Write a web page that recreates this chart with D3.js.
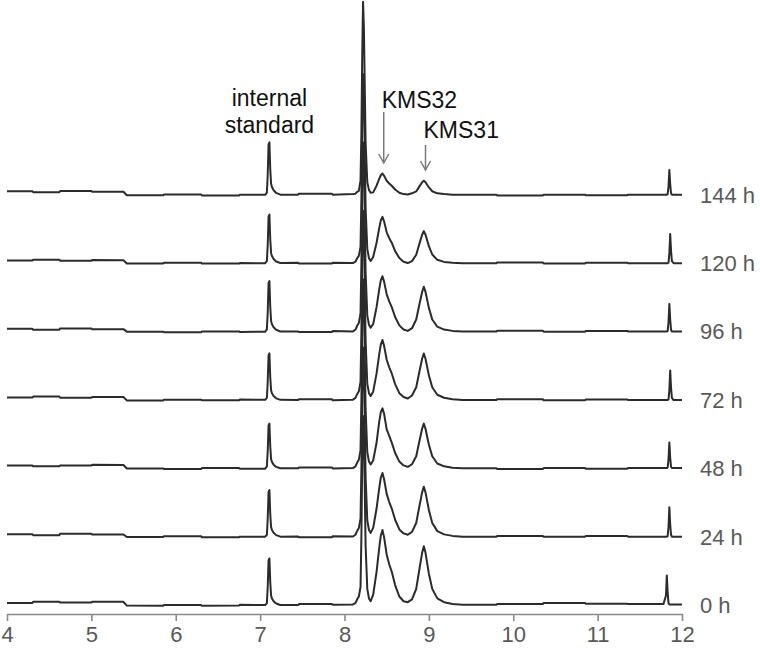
<!DOCTYPE html>
<html><head><meta charset="utf-8">
<script src="https://cdn.jsdelivr.net/npm/d3@7"></script>
<style>
html,body{margin:0;padding:0;background:#fff;}
svg{display:block;}
text{font-family:"Liberation Sans",Arial,sans-serif;}
</style></head>
<body>
<svg id="chart" width="760" height="656"></svg>
<script>
// Retention time grid (min)
const times = [
4.00,4.30,4.31,4.62,4.63,5.00,5.01,5.38,
5.42,5.85,5.86,6.30,6.31,6.75,6.76,
7.06,7.08,7.09,7.10,7.11,7.12,7.13,7.14,7.16,7.19,7.24,
7.45,7.46,7.85,7.86,8.10,
8.13,8.15,8.17,8.19,8.20,8.21,8.22,8.23,8.24,8.25,8.27,8.29,8.31,
8.34,8.38,8.41,8.43,8.45,8.47,8.50,8.53,8.56,8.60,8.65,
8.70,8.75,8.80,
8.85,8.89,8.92,8.94,8.96,9.00,9.04,9.10,9.18,9.28,
9.40,9.80,9.81,10.35,10.36,10.85,10.86,11.35,11.36,
11.78,11.81,11.82,11.83,11.84,11.85,11.86,11.87,11.88,11.90,12.00
];
// Sampling times (labels, bottom to top)
const sampleLabels = ["0 h","24 h","48 h","72 h","96 h","120 h","144 h"];
// Detector signal (relative units) per sample
const signal0h = [
1.6,1.6,2.2,2.2,1.8,1.8,2.3,2.2,
0.2,0.1,0.5,0.5,0.1,0.2,0.6,
0.5,1.5,10,24,25,12.5,5.5,4,2.5,1.3,0.5,
0.5,1.0,1.0,0.6,0.8,
1.5,3.5,5,10,36,76,100,90,62,32,9,4,2.5,
6,18,30,37,40,36,27,22,18,11,5,
2.5,2,3.5,
9,20,28,31.5,28,17,9,4,2,1,
0.6,0.6,1.0,1.0,1.6,1.6,1.2,1.2,1.0,
1.0,5.5,16,7,1.5,0.8,0.8,0.8,0.8,0.8,0.8
];
const signal24h = [
1.8,1.8,1.3,1.3,2.0,2.0,1.6,1.6,
0.3,0.3,0.7,0.7,0.2,0.2,0.5,
0.5,1.5,10,24,25,12.5,5.5,4,2.5,1.3,0.5,
0.6,0.2,0.2,0.7,0.6,
1.5,3.5,5,10,36,76,100,90,62,32,9,4,2.5,
5.1,15.3,25.5,31.5,34,30.6,23,18.7,15.3,9.4,4.3,
2.2,1.5,3,
7.7,17,23.8,26.8,23.8,14.5,7.7,3.4,1.7,0.9,
0.5,0.5,0.9,0.9,0.4,0.4,0.8,0.8,0.5,
0.5,0.5,0.5,0.8,5.5,16,7,1.5,0.5,0.5,0.5
];
const signal48h = [
2.0,2.0,1.5,1.5,1.9,1.9,2.3,2.2,
0.4,0.4,0.1,0.1,0.6,0.6,0.3,
0.3,1.5,9.5,23,24,12,5.3,3.8,2.4,1.2,0.5,
0.5,0.9,0.9,0.4,0.6,
1.5,3.5,5,10,36,76,100,90,62,32,9,4,2.5,
4.6,14,24.5,30,32,29,21,17.5,14,8.5,4,
2,1.2,2.6,
6.8,15.2,21.3,24,21.3,12.9,6.8,3,1.5,0.8,
0.5,0.5,0.1,0.1,0.6,0.6,0.3,0.3,0.6,
0.6,0.6,0.6,0.9,5,14,6,1.3,0.6,0.6,0.6
];
const signal72h = [
1.7,1.7,2.2,2.2,1.6,1.6,2.0,2.0,
0.2,0.2,0.6,0.6,0.3,0.3,0.7,
0.5,1.5,10,24,25,12.5,5.5,4,2.5,1.3,0.5,
0.4,0.8,0.8,0.3,0.6,
1.5,3.5,5,10,36,76,100,90,62,32,9,4,2.5,
4.8,14.4,24,29.6,32,28.8,21.6,17.6,14.4,8.8,4,
2,1.2,2.8,
7.1,15.8,22.1,24.9,22.1,13.4,7.1,3.2,1.6,0.8,
0.4,0.4,0.8,0.8,0.3,0.3,0.7,0.7,0.4,
0.4,0.4,0.4,0.4,0.7,5.5,16,7,1.5,0.4,0.4
];
const signal96h = [
1.9,1.9,1.4,1.4,2.1,2.1,1.7,1.7,
0.4,0.4,0.1,0.1,0.5,0.5,0.2,
0.4,1.6,10.5,26,27,13.5,6,4.3,2.7,1.4,0.5,
0.5,0.2,0.2,0.7,0.5,
1.5,3.5,5,10,36,76,100,90,62,32,9,4,2.5,
4.4,13.3,22.2,27.4,29.6,26.6,20,16.3,13.3,8.1,3.7,
1.5,0.8,2.2,
6.8,15.2,21.3,24,21.3,12.9,6.8,3,1.5,0.8,
0.5,0.5,0.9,0.9,0.4,0.4,0.8,0.8,0.5,
0.5,0.5,0.5,0.8,5.2,15,6.8,1.4,0.5,0.5,0.5
];
const signal120h = [
1.8,1.8,2.3,2.3,1.7,1.7,2.1,2.0,
0.3,0.3,0.7,0.7,0.2,0.2,0.5,
0.4,1.5,10,25,26,13,5.7,4.2,2.6,1.3,0.5,
0.6,0.3,0.3,0.7,0.5,
1.2,3,4.3,9,34,76,100,89,60,30,8,3,1.6,
3.7,11.2,18.6,22.9,24.8,22.3,16.7,13.6,11.2,6.8,3.1,
1.2,0.5,1.5,
4.9,11,15.4,17.3,15.4,9.4,5,2.2,1.1,0.6,
0.4,0.4,0.8,0.8,0.3,0.3,0.7,0.7,0.4,
0.4,0.4,0.4,0.4,0.7,5.5,15.8,7,1.5,0.4,0.4
];
const signal144h = [
2.3,2.3,1.8,1.8,2.4,2.4,2.0,2.0,
0.2,0.2,0.6,0.6,0.1,0.1,0.5,
0.4,1.6,11,27,28,14,6.2,4.5,2.8,1.4,0.5,
0.5,1.0,1.0,0.5,0.8,
1,2,2.5,8,32,74,102,88,58,28,7,3,1.5,
1.7,5.2,8.7,10.7,11.6,10.4,7.8,6.4,5.2,3.2,1.5,
0.8,0.6,1.2,
2.2,5,7,7.9,7,4.3,2.3,1.2,0.8,0.5,
0.4,0.4,0.1,0.1,0.5,0.5,0.2,0.2,0.5,
0.5,0.5,0.5,0.8,4.7,13.5,6,1.2,0.5,0.5,0.5
];
const signals = [signal0h,signal24h,signal48h,signal72h,signal96h,signal120h,signal144h];
// Axis ticks
const xTicks = [4,5,6,7,8,9,10,11,12];
// Annotations
const peakNames = ["KMS32","KMS31"];
const peakTimes = [8.465, 8.96];
const standardLabel = ["internal","standard"];
const standardTime = 7.11;

// ---------- layout ----------
const svg = d3.select("#chart");
const x = d3.scaleLinear().domain([4,12]).range([7,682]);
const y = d3.scaleLinear().domain([0,100]).range([606,416]);
const stackStep = 36;   // vertical offset between traces (signal units)
const FONT = 22;
const AFONT = 23;

// Axis
const axisG = svg.append("g").attr("transform","translate(0,614)")
  .call(d3.axisBottom(x).tickValues(xTicks).tickFormat(d3.format("d"))
        .tickSizeInner(7).tickSizeOuter(0).tickPadding(5));
axisG.select(".domain").attr("stroke","#8a8a8a").attr("stroke-width",1.6);
axisG.selectAll(".tick line").attr("stroke","#8a8a8a").attr("stroke-width",1.6);
axisG.selectAll(".tick text").attr("fill","#595959").attr("font-size",FONT)
  .attr("font-family","'Liberation Sans',Arial,sans-serif");

// Traces
const line = d3.line().x(d => x(d[0])).y(d => y(d[1])).curve(d3.curveLinear);
const traces = svg.append("g");
signals.forEach((vals,i) => {
  const pts = times.map((t,j) => [t, vals[j] + i*stackStep]);
  traces.append("path").datum(pts)
    .attr("d", line).attr("fill","none")
    .attr("stroke","#2b2b2b").attr("stroke-width",2)
    .attr("stroke-linejoin","round");
  svg.append("text")
    .attr("x",700).attr("y", y(i*stackStep) + 7)
    .attr("fill","#595959").attr("font-size",FONT)
    .text(sampleLabels[i]);
});

// Internal standard label
svg.append("text").attr("x", x(standardTime)).attr("y",106)
  .attr("text-anchor","middle").attr("font-size",AFONT).attr("fill","#111")
  .text(standardLabel[0]);
svg.append("text").attr("x", x(standardTime)).attr("y",133)
  .attr("text-anchor","middle").attr("font-size",AFONT).attr("fill","#111")
  .text(standardLabel[1]);

// Peak labels and arrows
const arrowTop = [112,145], arrowBottom = [163,170], labelY = [108,138];
peakNames.forEach((nm,k) => {
  const px = x(peakTimes[k]);
  svg.append("text").attr("x", px - 2).attr("y", labelY[k])
    .attr("font-size",AFONT).attr("fill","#111").text(nm);
  const g = svg.append("g").attr("stroke","#7a7a7a").attr("stroke-width",1.5).attr("fill","none");
  g.append("line").attr("x1",px).attr("x2",px).attr("y1",arrowTop[k]).attr("y2",arrowBottom[k]);
  g.append("path").attr("d", `M${px-5},${arrowBottom[k]-9}L${px},${arrowBottom[k]}L${px+5},${arrowBottom[k]-9}`);
});
</script>
</body></html>
